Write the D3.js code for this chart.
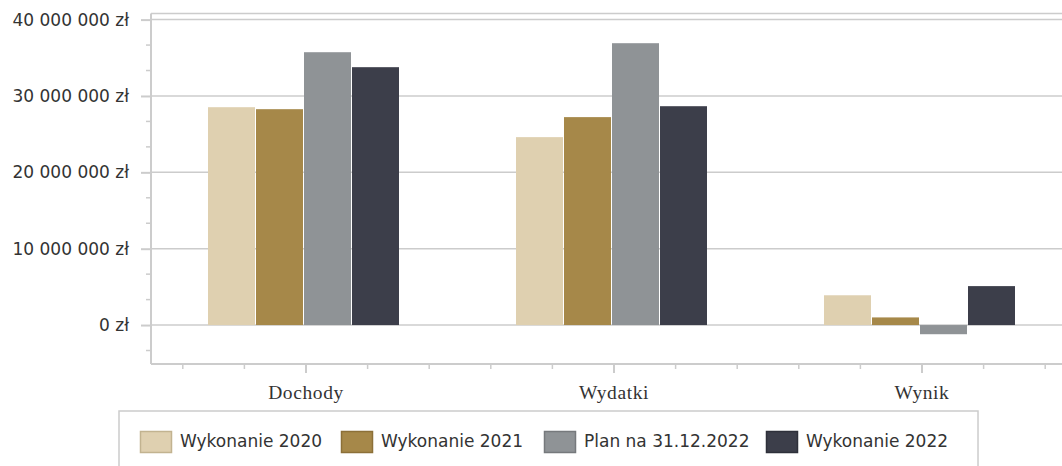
<!DOCTYPE html>
<html>
<head>
<meta charset="utf-8">
<script src="https://cdn.jsdelivr.net/npm/d3@7"></script>
<style>
  body { margin: 0; background: #fff; }
  svg { display: block; }
</style>
</head>
<body>
<svg id="chart" width="1062" height="466"></svg>
<script>
const categories = ["Dochody", "Wydatki", "Wynik"];
const seriesNames = ["Wykonanie 2020", "Wykonanie 2021", "Plan na 31.12.2022", "Wykonanie 2022"];
const wykonanie2020 = [28530000, 24610000, 3900000];
const wykonanie2021 = [28270000, 27230000, 1000000];
const plan2022 = [35730000, 36910000, -1200000];
const wykonanie2022 = [33770000, 28660000, 5100000];
const yTickValues = [0, 10000000, 20000000, 30000000, 40000000];

const seriesValues = [wykonanie2020, wykonanie2021, plan2022, wykonanie2022];
const fills = ["#dfd0b0", "#a68849", "#8f9396", "#3c3e4a"];
const strokes = ["#c2b390", "#8c7038", "#76797c", "#2e303a"];

const svg = d3.select("#chart");
const plotLeft = 151, plotRight = 1076, plotTop = 13.5, plotBottom = 364;

const x0 = d3.scaleBand().domain(categories).range([plotLeft + 1, plotRight]).padding(0);
const x1 = d3.scaleBand().domain(seriesNames).range([0, 192]).padding(0);
const y = d3.scaleLinear().domain([-5100000, 40800000]).range([plotBottom, plotTop]);

const grid = "#cccccc";
const fmt = (v) => (v === 0 ? "0 zł" : d3.format(",")(v).replace(/,/g, " ") + " zł");

// gridlines
svg.append("g")
  .selectAll("line")
  .data(yTickValues)
  .join("line")
  .attr("x1", plotLeft).attr("x2", 1062)
  .attr("y1", (d) => y(d)).attr("y2", (d) => y(d))
  .attr("stroke", grid).attr("stroke-width", 1.5);

// top border
svg.append("line")
  .attr("x1", plotLeft).attr("x2", 1062)
  .attr("y1", plotTop).attr("y2", plotTop)
  .attr("stroke", grid).attr("stroke-width", 1.5);

// bars
const rows = categories.map((c, i) => seriesNames.map((s, j) => ({ c, s, j, v: seriesValues[j][i] })));
svg.append("g")
  .selectAll("g")
  .data(rows)
  .join("g")
  .attr("transform", (d) => `translate(${x0(d[0].c) + 56},0)`)
  .selectAll("rect")
  .data((d) => d)
  .join("rect")
  .attr("x", (d) => x1(d.s))
  .attr("width", x1.bandwidth() - 1)
  .attr("y", (d) => y(Math.max(0, d.v)))
  .attr("height", (d) => Math.abs(y(d.v) - y(0)))
  .attr("fill", (d) => fills[d.j]);

// y axis
const axisY = d3.axisLeft(y).tickValues(yTickValues).tickSize(10).tickPadding(12).tickFormat(fmt);
const gy = svg.append("g").attr("transform", `translate(${plotLeft},0)`).call(axisY);
gy.select(".domain").attr("stroke", grid).attr("stroke-width", 2).attr("d", `M0,${plotTop}V${plotBottom}`);
gy.selectAll(".tick line").attr("stroke", grid).attr("stroke-width", 2);
gy.selectAll(".tick text")
  .attr("font-family", "DejaVu Sans").attr("font-size", 17).attr("fill", "#333");

const minorY = d3.range(-1, 13).map((k) => (k * 10000000) / 3).filter((v, k) => (k - 1) % 3 !== 0);
svg.append("g")
  .selectAll("line")
  .data(minorY)
  .join("line")
  .attr("x1", plotLeft - 5).attr("x2", plotLeft)
  .attr("y1", (d) => y(d)).attr("y2", (d) => y(d))
  .attr("stroke", grid).attr("stroke-width", 1.5);

// x axis
const axisX = d3.axisBottom(x0).tickSize(9).tickPadding(12);
const gx = svg.append("g").attr("transform", `translate(0,${plotBottom})`).call(axisX);
gx.select(".domain").attr("stroke", grid).attr("stroke-width", 2).attr("d", `M${plotLeft},0H1062`);
gx.selectAll(".tick line").attr("stroke", grid).attr("stroke-width", 2);
gx.selectAll(".tick text")
  .attr("font-family", "Liberation Serif").attr("font-size", 19.5).attr("fill", "#333")
  .attr("letter-spacing", 0.6);

const step = x0.bandwidth() / 5;
const minorX = [];
categories.forEach((c) => {
  const cx = x0(c) + x0.bandwidth() / 2;
  [-2, -1, 1, 2].forEach((k) => minorX.push(cx + k * step));
});
svg.append("g")
  .selectAll("line")
  .data(minorX.filter((v) => v < 1062))
  .join("line")
  .attr("x1", (d) => d).attr("x2", (d) => d)
  .attr("y1", plotBottom).attr("y2", plotBottom + 5)
  .attr("stroke", grid).attr("stroke-width", 1.5);

// legend
svg.append("rect")
  .attr("x", 119).attr("y", 411).attr("width", 859).attr("height", 80)
  .attr("fill", "none").attr("stroke", grid).attr("stroke-width", 1.5);

const legendX = [140, 341, 544, 766];
const lg = svg.append("g")
  .selectAll("g")
  .data(seriesNames)
  .join("g")
  .attr("transform", (d, i) => `translate(${legendX[i]},431)`);
lg.append("rect")
  .attr("x", 0.5).attr("y", 0.5).attr("width", 31).attr("height", 21)
  .attr("fill", (d, i) => fills[i]).attr("stroke", (d, i) => strokes[i]).attr("stroke-width", 1.5);
lg.append("text")
  .attr("x", 40).attr("y", 16)
  .attr("font-family", "DejaVu Sans").attr("font-size", 17).attr("fill", "#333")
  .text((d) => d);
</script>
</body>
</html>
